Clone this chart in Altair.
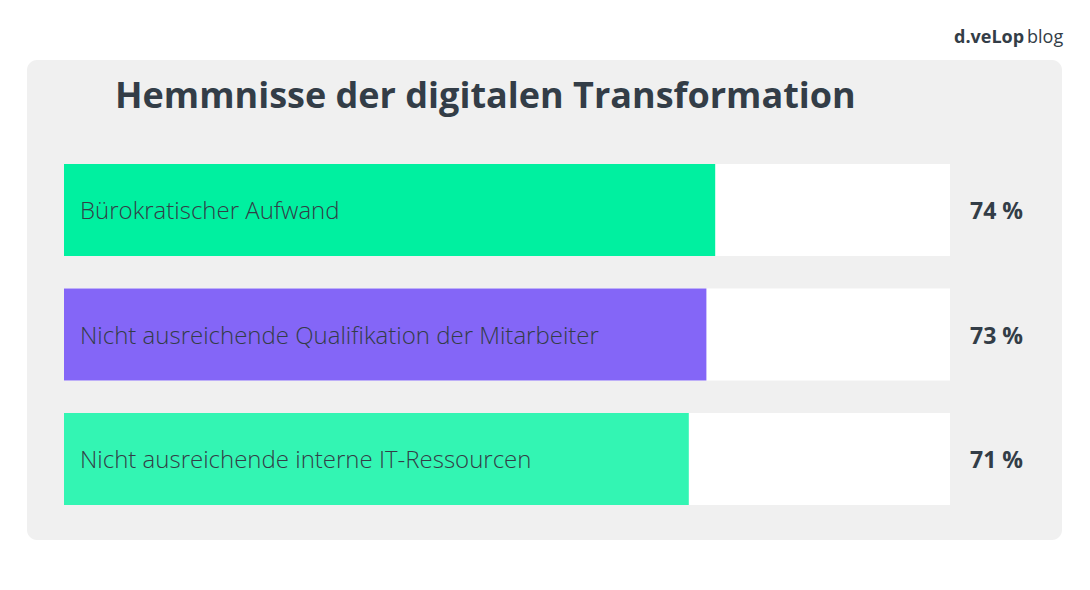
import altair as alt
import pandas as pd

categories = ["Bürokratischer Aufwand",
              "Nicht ausreichende Qualifikation der Mitarbeiter",
              "Nicht ausreichende interne IT-Ressourcen"]
values = [74, 73, 71]
value_labels = ["74 %", "73 %", "71 %"]
colors = ["#00F0A0", "#8466F7", "#33F5B3"]
full = [100, 100, 100]

title_text = "Hemmnisse der digitalen Transformation"
logo_bold = "d.veLop"
logo_light = "blog"

df = pd.DataFrame({"cat": categories, "value": values, "label": value_labels, "full": full})

TXT = "#333D47"
W, H = 1074, 574

yscale = alt.Scale(domain=categories, range=[156, 497], paddingInner=0.26, paddingOuter=0)
xscale_bg = alt.Scale(domain=[0, 100], range=[56, 942])
xscale = alt.Scale(domain=[0, 100], range=[56, 936])

base = alt.Chart(df)

panel = alt.Chart(pd.DataFrame({"a": [0]})).mark_rect(
    color="#F0F0F0", cornerRadius=10
).encode(x=alt.value(19), x2=alt.value(1054), y=alt.value(52), y2=alt.value(532))

bg = base.mark_bar(color="white").encode(
    y=alt.Y("cat:N", scale=yscale, axis=None),
    x=alt.X("full:Q", scale=xscale_bg, axis=None),
)

bars = base.mark_bar().encode(
    y=alt.Y("cat:N", scale=yscale, axis=None),
    x=alt.X("value:Q", scale=xscale, axis=None),
    color=alt.Color("cat:N", scale=alt.Scale(domain=categories, range=colors), legend=None),
)

cat_text = base.mark_text(
    align="left", baseline="middle", font="Open Sans", fontWeight=300, fontSize=24, color=TXT, dy=2
).encode(
    y=alt.Y("cat:N", scale=yscale, axis=None),
    x=alt.value(72),
    text="cat:N",
)

val_text = base.mark_text(
    align="left", baseline="middle", font="Open Sans", fontWeight="bold", fontSize=23, color=TXT, dy=2
).encode(
    y=alt.Y("cat:N", scale=yscale, axis=None),
    x=alt.value(962),
    text="label:N",
)

title = alt.Chart(pd.DataFrame({"t": [title_text]})).mark_text(
    align="left", baseline="middle", font="Open Sans", fontWeight="bold", fontSize=36, color=TXT
).encode(x=alt.value(107), y=alt.value(89), text="t:N")

logo1 = alt.Chart(pd.DataFrame({"t": [logo_bold]})).mark_text(
    align="left", baseline="middle", font="Open Sans", fontWeight="bold", fontSize=18, color=TXT
).encode(x=alt.value(946), y=alt.value(30), text="t:N")

logo2 = alt.Chart(pd.DataFrame({"t": [logo_light]})).mark_text(
    align="left", baseline="middle", font="Open Sans", fontSize=18, color=TXT
).encode(x=alt.value(1019), y=alt.value(30), text="t:N")

chart = alt.layer(panel, bg, bars, cat_text, val_text, title, logo1, logo2).resolve_scale(
    x="independent"
).properties(
    width=W, height=H, padding=0, autosize=alt.AutoSizeParams(type="none"), background="white"
).configure_view(stroke=None)

chart.save("out.html", embed_options={"renderer": "svg", "actions": False})
